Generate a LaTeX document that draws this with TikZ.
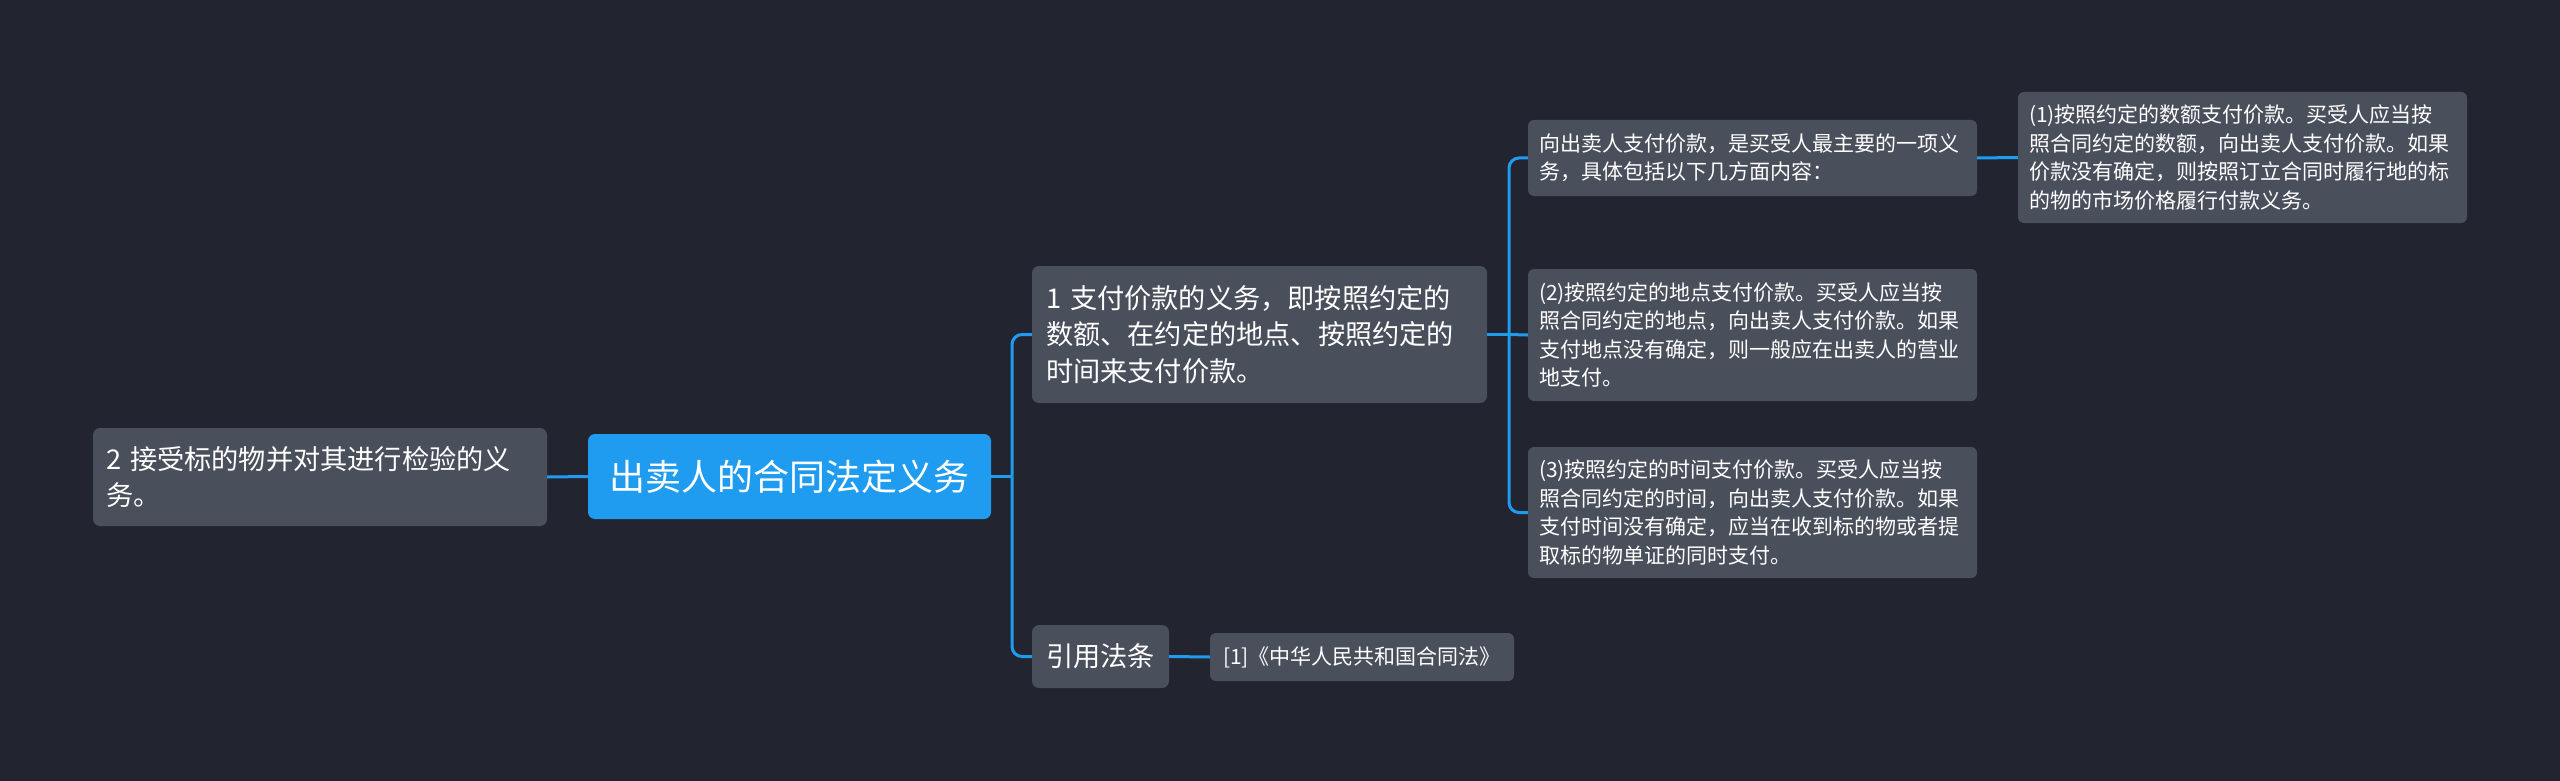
\documentclass[tikz,border=0pt]{standalone}
\usepackage{fontspec}
\setmainfont{Noto Sans CJK SC}
\definecolor{bg}{HTML}{22252F}
\definecolor{nodegray}{HTML}{4A4F5C}
\definecolor{mainblue}{HTML}{1F9BF0}
\tikzset{
  box/.style={rounded corners=7pt, fill=nodegray, text=white, inner ysep=0pt, align=left, anchor=center},
  bigtext/.style={font=\fontsize{27.2pt}{36.7pt}\selectfont},
  smalltext/.style={font=\fontsize{21pt}{28.5pt}\selectfont},
  link/.style={draw=mainblue, line width=3pt, rounded corners=10pt},
}
\begin{document}
\begin{tikzpicture}[x=1pt,y=-1pt]
\useasboundingbox[fill=bg] (0,0) rectangle (2560,781);
% root
\node[box, fill=mainblue, align=center, minimum width=403pt, minimum height=85pt, inner xsep=0pt,
      font=\fontsize{36pt}{44pt}\selectfont] (root) at (789.5,476.5) {出卖人的合同法定义务};
% left child
\node[box, bigtext, inner xsep=13pt, text width=428pt, minimum height=98pt] (n2) at (320,477)
  {2 接受标的物并对其进行检验的义\\务。};
% right children
\node[box, bigtext, inner xsep=14pt, text width=427pt, minimum height=137pt] (n1) at (1259.5,334.5)
  {1 支付价款的义务，即按照约定的\\数额、在约定的地点、按照约定的\\时间来支付价款。};
\node[box, bigtext, align=center, inner xsep=0pt, minimum width=137pt, minimum height=63pt] (cite) at (1100.5,656.5)
  {引用法条};
\node[box, smalltext, align=center, inner xsep=0pt, minimum width=304pt, minimum height=48pt, rounded corners=6pt] (ref) at (1362,657)
  {[1]《中华人民共和国合同法》};
% grandchildren
\node[box, smalltext, inner xsep=11pt, text width=427pt, minimum height=76pt, rounded corners=6pt] (a0) at (1752.5,158)
  {向出卖人支付价款，是买受人最主要的一项义\\务，具体包括以下几方面内容：};
\node[box, smalltext, inner xsep=11pt, text width=427pt, minimum height=131pt, rounded corners=6pt] (a1) at (2242.5,157.5)
  {(1)按照约定的数额支付价款。买受人应当按\\照合同约定的数额，向出卖人支付价款。如果\\价款没有确定，则按照订立合同时履行地的标\\的物的市场价格履行付款义务。};
\node[box, smalltext, inner xsep=11pt, text width=427pt, minimum height=132pt, rounded corners=6pt] (a2) at (1752.5,335)
  {(2)按照约定的地点支付价款。买受人应当按\\照合同约定的地点，向出卖人支付价款。如果\\支付地点没有确定，则一般应在出卖人的营业\\地支付。};
\node[box, smalltext, inner xsep=11pt, text width=427pt, minimum height=131pt, rounded corners=6pt] (a3) at (1752.5,512.5)
  {(3)按照约定的时间支付价款。买受人应当按\\照合同约定的时间，向出卖人支付价款。如果\\支付时间没有确定，应当在收到标的物或者提\\取标的物单证的同时支付。};
% junctions
\coordinate (j1) at (1012,476.5);
\coordinate (j2) at (1509,334.5);
% connectors
\draw[link] (root.west) -- (n2.east);
\draw[link] (root.east) -- (j1);
\draw[link] (j1) |- (n1.west);
\draw[link] (j1) |- (cite.west);
\draw[link] (cite.east) -- (ref.west);
\draw[link] (n1.east) -- (j2);
\draw[link] (j2) |- (a0.west);
\draw[link] (j2) -- (a2.west);
\draw[link] (j2) |- (a3.west);
\draw[link] (a0.east) -- (a1.west);
\end{tikzpicture}
\end{document}
